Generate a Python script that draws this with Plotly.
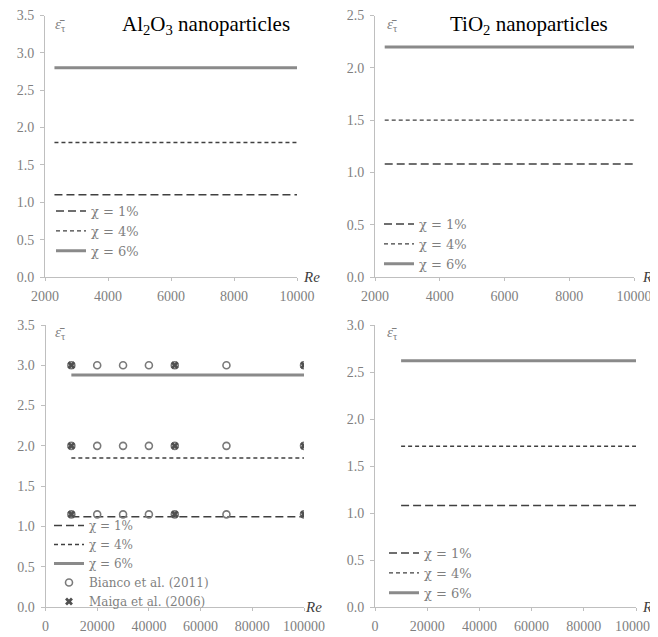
import plotly.graph_objects as go

# ---------------- data ----------------
re_top = [2300, 10000]
al_top_1 = [1.10, 1.10]
al_top_4 = [1.80, 1.80]
al_top_6 = [2.80, 2.80]
ti_top_1 = [1.08, 1.08]
ti_top_4 = [1.50, 1.50]
ti_top_6 = [2.20, 2.20]

re_bot = [10000, 100000]
al_bot_1 = [1.12, 1.12]
al_bot_4 = [1.85, 1.85]
al_bot_6 = [2.88, 2.88]
ti_bot_1 = [1.08, 1.08]
ti_bot_4 = [1.71, 1.71]
ti_bot_6 = [2.62, 2.62]

bianco_re = [10000, 20000, 30000, 40000, 50000, 70000, 100000,
             10000, 20000, 30000, 40000, 50000, 70000, 100000,
             10000, 20000, 30000, 40000, 50000, 70000, 100000]
bianco_y = [3.0] * 7 + [2.0] * 7 + [1.15] * 7
maiga_re = [10000, 50000, 100000, 10000, 50000, 100000, 10000, 50000, 100000]
maiga_y = [3.0, 3.0, 3.0, 2.0, 2.0, 2.0, 1.15, 1.15, 1.15]

series_names = ["χ = 1%", "χ = 4%", "χ = 6%"]

# ---------------- styles ----------------
# the page body adds an 8 px margin, so the figure is 8 px smaller and
# all window-pixel positions below are shifted by that offset
OFF = 8
W, H = 658 - OFF, 637 - OFF
GRAY_AX = "#bfbfbf"
GRAY_TXT = "#7f7f7f"
FONT = "Liberation Serif"
LFONT = "DejaVu Serif"
styles = [
    dict(color="#404040", width=1.6, dash="8px,4px"),
    dict(color="#404040", width=1.4, dash="4px,3px"),
    dict(color="#8a8a8a", width=3),
]

fig = go.Figure()

panels = [
    ("x", "y", "legend", re_top, [al_top_1, al_top_4, al_top_6]),
    ("x2", "y2", "legend2", re_top, [ti_top_1, ti_top_4, ti_top_6]),
    ("x3", "y3", "legend3", re_bot, [al_bot_1, al_bot_4, al_bot_6]),
    ("x4", "y4", "legend4", re_bot, [ti_bot_1, ti_bot_4, ti_bot_6]),
]
for xa, ya, lg, xs, ys_list in panels:
    for name, ys, st in zip(series_names, ys_list, styles):
        fig.add_trace(go.Scatter(x=xs, y=ys, mode="lines", name=name, line=st,
                                 xaxis=xa, yaxis=ya, legend=lg))
    if xa == "x3":
        fig.add_trace(go.Scatter(x=bianco_re, y=bianco_y, mode="markers",
                                 name="Bianco et al. (2011)",
                                 marker=dict(symbol="circle-open", size=7,
                                             color="#7a7a7a", line=dict(width=1.6)),
                                 xaxis=xa, yaxis=ya, legend=lg))
        fig.add_trace(go.Scatter(x=maiga_re, y=maiga_y, mode="markers",
                                 name="Maiga et al. (2006)",
                                 marker=dict(symbol="x", size=7, color="#505050",
                                             line=dict(width=0)),
                                 xaxis=xa, yaxis=ya, legend=lg))


def px_x(p):
    return (p - OFF) / W


def px_y(p):
    return 1 - (p - OFF) / H


axis_common = dict(showgrid=False, zeroline=False, showline=True, linecolor=GRAY_AX,
                   linewidth=1, ticks="outside", ticklen=3, tickcolor=GRAY_AX,
                   tickfont=dict(family=FONT, size=14, color=GRAY_TXT),
                   ticklabelstandoff=3, mirror=False, automargin=False)

doms = {
    1: ([45, 297], [15.5, 277], [2000, 10000], 2000, [0, 3.5]),
    2: ([375, 634], [15.5, 277], [2000, 10000], 2000, [0, 2.5]),
    3: ([45.5, 304], [325, 607], [0, 100000], 20000, [0, 3.5]),
    4: ([375, 636], [325, 607], [0, 100000], 20000, [0, 3.0]),
}
layout = {}
for i, (dx, dy, xr, dtx, yr) in doms.items():
    s = "" if i == 1 else str(i)
    layout["xaxis" + s] = dict(axis_common, domain=[px_x(dx[0]), px_x(dx[1])],
                               range=xr, dtick=dtx, tick0=0, anchor="y" + s,
                               tickformat="d")
    layout["yaxis" + s] = dict(axis_common, domain=[px_y(dy[1]), px_y(dy[0])],
                               range=yr, dtick=0.5, tickformat=".1f", anchor="x" + s,
                               ticklen=4)

leg_common = dict(bgcolor="rgba(0,0,0,0)", borderwidth=0,
                  font=dict(family=LFONT, size=13, color=GRAY_TXT),
                  xanchor="left", yanchor="top", tracegroupgap=0,
                  itemclick=False, itemdoubleclick=False)
layout["legend"] = dict(leg_common, x=px_x(51), y=px_y(196))
layout["legend2"] = dict(leg_common, x=px_x(379), y=px_y(209))
layout["legend3"] = dict(leg_common, x=px_x(49), y=px_y(511),
                         font=dict(family=LFONT, size=12, color=GRAY_TXT))
layout["legend4"] = dict(leg_common, x=px_x(384), y=px_y(538))

fig.update_layout(width=W, height=H, margin=dict(l=0, r=0, t=0, b=0, autoexpand=False),
                  plot_bgcolor="white", paper_bgcolor="white", showlegend=True,
                  **layout)

annots = []
# titles
annots.append(dict(text="Al<sub>2</sub>O<sub>3</sub> nanoparticles", x=px_x(206), y=px_y(25),
                   xref="paper", yref="paper", showarrow=False,
                   xanchor="center", yanchor="middle",
                   font=dict(family=FONT, size=21, color="black")))
annots.append(dict(text="TiO<sub>2</sub> nanoparticles", x=px_x(529), y=px_y(25),
                   xref="paper", yref="paper", showarrow=False,
                   xanchor="center", yanchor="middle",
                   font=dict(family=FONT, size=21, color="black")))
# y labels and Re labels
for (ylx, yly, rex, rey) in [(60, 25, 301, 277), (392, 25, 640, 277),
                             (60, 333, 303, 607), (392, 333, 640, 607)]:
    annots.append(dict(text="<i>ε̄</i><sub>τ</sub>", x=px_x(ylx), y=px_y(yly),
                       xref="paper", yref="paper", showarrow=False,
                       xanchor="center", yanchor="middle",
                       font=dict(family=FONT, size=15, color=GRAY_TXT)))
    annots.append(dict(text="<i>Re</i>", x=px_x(rex), y=px_y(rey),
                       xref="paper", yref="paper", showarrow=False,
                       xanchor="left", yanchor="middle",
                       font=dict(family=FONT, size=15, color="#404040")))
fig.update_layout(annotations=annots)

fig.write_html("out.html")
